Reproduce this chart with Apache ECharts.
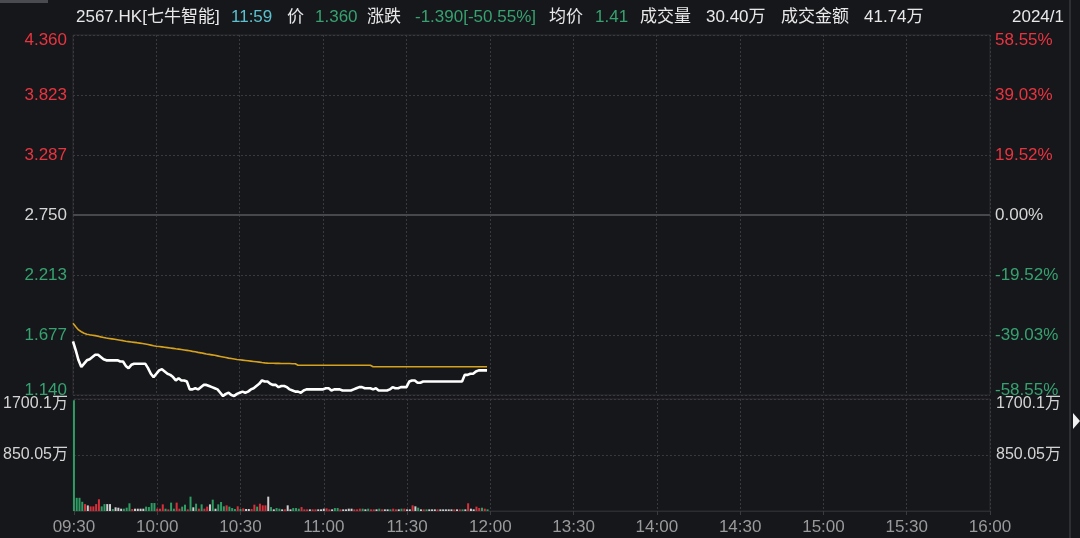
<!DOCTYPE html>
<html><head><meta charset="utf-8">
<script src="https://cdn.jsdelivr.net/npm/echarts@6/dist/echarts.min.js"></script>
<style>html,body{margin:0;padding:0;background:#16171b;}#c{width:1080px;height:538px;}</style>
</head><body><div id="c"></div>
<script>
// ---------- data ----------
const prevClose = 2.75;
const maxPct = 58.55;
const priceTickLabels = ['1.140','1.677','2.213','2.750','3.287','3.823','4.360'];
const pctTickLabels = ['-58.55%','-39.03%','-19.52%','0.00%','19.52%','39.03%','58.55%'];
const volMax = 1700.1;
const volTickLabels = ['', '850.05万', '1700.1万'];
const timeLabels = ['09:30','10:00','10:30','11:00','11:30','12:00','13:30','14:00','14:30','15:00','15:30','16:00'];
const sessionMinutes = 330;

const price = [
1.62,1.54,1.45,1.39,1.42,1.45,1.46,1.48,1.50,1.50,
1.48,1.46,1.45,1.45,1.45,1.45,1.45,1.44,1.44,1.40,
1.38,1.41,1.42,1.42,1.42,1.42,1.42,1.38,1.33,1.30,
1.33,1.36,1.37,1.35,1.33,1.32,1.30,1.27,1.29,1.27,
1.27,1.26,1.19,1.19,1.20,1.19,1.21,1.23,1.23,1.22,
1.21,1.20,1.19,1.16,1.13,1.15,1.16,1.14,1.13,1.15,
1.16,1.17,1.16,1.17,1.19,1.20,1.22,1.24,1.27,1.26,
1.26,1.24,1.23,1.23,1.21,1.22,1.22,1.21,1.19,1.18,
1.17,1.17,1.16,1.18,1.19,1.19,1.19,1.19,1.19,1.19,
1.19,1.20,1.20,1.18,1.19,1.19,1.19,1.18,1.18,1.18,
1.18,1.19,1.20,1.21,1.21,1.20,1.20,1.20,1.19,1.20,
1.18,1.18,1.18,1.18,1.19,1.21,1.20,1.20,1.21,1.21,
1.21,1.26,1.27,1.27,1.25,1.25,1.26,1.26,1.26,1.26,
1.26,1.26,1.26,1.26,1.26,1.26,1.26,1.26,1.26,1.26,
1.26,1.32,1.32,1.33,1.33,1.35,1.36,1.36,1.36,1.36
];

const avgPrice = [
1.781,1.750,1.722,1.706,1.692,1.684,1.679,1.675,1.671,1.666,
1.660,1.655,1.650,1.646,1.642,1.638,1.634,1.630,1.626,1.620,
1.617,1.614,1.611,1.608,1.604,1.600,1.596,1.592,1.586,1.580,
1.576,1.573,1.570,1.567,1.564,1.561,1.557,1.553,1.550,1.547,
1.543,1.539,1.535,1.530,1.526,1.521,1.517,1.512,1.507,1.503,
1.499,1.495,1.490,1.485,1.480,1.475,1.470,1.466,1.462,1.458,
1.455,1.452,1.449,1.446,1.443,1.440,1.437,1.434,1.430,1.427,
1.425,1.424,1.424,1.423,1.423,1.422,1.422,1.421,1.421,1.420,
1.420,1.406,1.406,1.406,1.406,1.406,1.406,1.406,1.406,1.406,
1.406,1.406,1.406,1.406,1.406,1.406,1.406,1.406,1.406,1.406,
1.406,1.406,1.406,1.406,1.406,1.406,1.406,1.406,1.393,1.393,
1.393,1.393,1.393,1.393,1.393,1.393,1.393,1.393,1.393,1.393,
1.393,1.393,1.393,1.393,1.393,1.393,1.393,1.393,1.393,1.393,
1.393,1.393,1.393,1.393,1.393,1.393,1.393,1.393,1.393,1.393,
1.393,1.393,1.393,1.393,1.393,1.393,1.393,1.393,1.393,1.393
];

const volume = [
1680,200,200,140,105,85,70,70,105,178,
70,105,105,105,30,56,50,35,35,50,
117,30,35,35,35,35,66,60,121,121,
35,35,101,35,25,127,35,127,35,66,
96,25,218,56,111,35,101,35,66,101,
172,35,101,137,71,86,66,45,30,71,
30,40,30,30,30,96,66,111,86,86,
218,60,25,45,35,25,25,86,25,45,
45,35,60,25,25,25,25,25,25,25,
35,40,25,25,45,45,25,25,25,35,
35,25,25,35,35,25,35,25,25,25,
35,25,25,25,25,35,25,25,35,35,
25,25,86,71,50,25,25,25,25,25,
25,25,25,25,25,25,25,25,25,25,
25,25,117,35,25,66,45,50,35,25
];

const volDir = (
'ggggrwrrrr' + 'ggwwgwwwgg' + 'grwwwwgggg' + 'rrrgrggrrg' + 'grgwgrgrrw' +
'gwgggrgggr' + 'grwwrrgrrr' + 'wgwggwrwwg' + 'ggrrrwrrww' + 'wrrwggrwww' +
'wrrrgwgrrw' + 'grwwgrrwgr' + 'wwrwgwrgww' + 'wrwwwwwrwr' + 'gwrwwrrgrg'
).split('');

const headerTexts = ['2567.HK[七牛智能]','11:59','价','1.360','涨跌','-1.390[-50.55%]','均价','1.41','成交量','30.40万','成交金额','41.74万','2024/1'];
const headerKinds = ['w','t','w','g','w','g','w','g','w','w','w','w','w'];

// ---------- layout / style ----------
const headerX = [76,231,287,315,367,415,549,595,640,706,781,864,1012];
const C = {
  bg:'#16171b', red:'#e8343f', green:'#36a270', teal:'#5bc0cf', white:'#e8e8e8',
  grey:'#9a9a9a', grid:'#393a3f', border:'#2c2d31', zero:'#47484c',
  avg:'#d6a21e', vr:'#d8303a', vg:'#2e9c63', vw:'#cfcfcf'
};
const FONT = '"Liberation Sans","Noto Sans CJK SC",Arial,sans-serif';
const kindColor = {w:C.white, t:C.teal, g:C.green};
const volColor = {r:C.vr, g:C.vg, w:C.vw};

const toPct = p => (p - prevClose) / prevClose * 100;
const pInt = maxPct / 3;
const tickIdx = v => Math.round((parseFloat(v) + maxPct) / pInt);
const idxColor = k => k > 3 ? C.red : (k < 3 ? C.green : '#d6d6d6');
const edgeLabel = (arr) => v => {
  const k = tickIdx(v);
  const style = (k === 6 ? 'top' : (k === 0 ? 'bot' : 'mid')) + (k > 3 ? 'R' : (k < 3 ? 'G' : 'W'));
  return '{' + style + '|' + arr[k] + '}';
};
const mk = (pad, col) => ({ padding: pad, color: col, fontSize: 17, fontFamily: FONT });
const priceRich = {
  topR: mk([10,0,0,0], C.red), topG: mk([10,0,0,0], C.green), topW: mk([10,0,0,0], '#d6d6d6'),
  botR: mk([0,0,10,0], C.red), botG: mk([0,0,10,0], C.green), botW: mk([0,0,10,0], '#d6d6d6'),
  midR: mk([0,0,0,0], C.red), midG: mk([0,0,0,0], C.green), midW: mk([0,0,0,0], '#d6d6d6')
};
const volRich = { top: { padding:[10,0,0,0], color:'#d4d4d4', fontSize:16, fontFamily: FONT } };
const volFmt = v => { const k = Math.round(parseFloat(v) / (volMax/2)); return k === 2 ? '{top|' + volTickLabels[k] + '}' : volTickLabels[k]; };

const dotted = { color: C.grid, type: [2,2], width: 1 };
const gridL = 73, gridR = 90;

const chart = echarts.init(document.getElementById('c'), null, {renderer:'canvas'});

const graphics = headerTexts.map((t, i) => ({
  type:'text', x: headerX[i], y: 17, silent: true,
  style: { text: t, fill: kindColor[headerKinds[i]], font: '17px ' + FONT, verticalAlign: 'middle' }
}));
graphics.push(
  { type:'rect', shape:{x:0,y:0,width:48,height:3}, style:{fill:'#4a4b50'}, silent:true },
  { type:'rect', shape:{x:1069,y:0,width:2,height:538}, style:{fill:'#2e2f33'}, silent:true },
  { type:'polygon', shape:{points:[[1073,413],[1080,421],[1073,429]]}, style:{fill:'#f0f0f0'}, silent:true }
);

const xCommon = {
  type:'value', min:0, max:sessionMinutes, interval:30,
  splitLine:{ show:true, lineStyle: dotted },
  axisLine:{ show:false }, axisTick:{ show:false }
};

chart.setOption({
  backgroundColor: C.bg,
  animation: false,
  textStyle: { fontFamily: FONT },
  graphic: graphics,
  grid: [
    { left: gridL, right: gridR, top: 35, height: 360, show: true, borderColor: C.border, borderWidth: 1, backgroundColor: 'transparent' },
    { left: gridL, right: gridR, top: 399, height: 112, show: true, borderColor: C.border, borderWidth: 1, backgroundColor: 'transparent' }
  ],
  xAxis: [
    Object.assign({}, xCommon, { gridIndex:0, axisLabel:{ show:false } }),
    Object.assign({}, xCommon, { gridIndex:1,
      axisLine:{ show:true, lineStyle:{ color: C.border } },
      axisTick:{ show:true, length:4, lineStyle:{ color:'#3a3b40' } },
      axisLabel:{ show:true, color: C.grey, fontSize: 17, margin: 8, fontFamily: FONT,
        formatter: v => timeLabels[Math.round(parseFloat(v) / 30)] || '' } })
  ],
  yAxis: [
    { type:'value', gridIndex:0, position:'left', min:-maxPct, max:maxPct, interval:pInt,
      axisLine:{show:false}, axisTick:{show:false},
      splitLine:{ show:true, lineStyle: dotted },
      axisLabel:{ fontSize:17, margin:6, fontFamily: FONT, rich: priceRich, formatter: edgeLabel(priceTickLabels) } },
    { type:'value', gridIndex:0, position:'right', min:-maxPct, max:maxPct, interval:pInt,
      axisLine:{show:false}, axisTick:{show:false}, splitLine:{show:false},
      axisLabel:{ fontSize:17, margin:5, fontFamily: FONT, rich: priceRich, formatter: edgeLabel(pctTickLabels) } },
    { type:'value', gridIndex:1, position:'left', min:0, max:volMax, interval:volMax/2,
      axisLine:{show:false}, axisTick:{show:false},
      splitLine:{ show:true, lineStyle: dotted },
      axisLabel:{ fontSize:16, margin:6, color:'#d4d4d4', fontFamily: FONT, rich: volRich, formatter: volFmt } },
    { type:'value', gridIndex:1, position:'right', min:0, max:volMax, interval:volMax/2,
      axisLine:{show:false}, axisTick:{show:false}, splitLine:{show:false},
      axisLabel:{ fontSize:16, margin:6, color:'#d4d4d4', fontFamily: FONT, rich: volRich, formatter: volFmt } }
  ],
  series: [
    { type:'line', name:'均价', xAxisIndex:0, yAxisIndex:0, showSymbol:false, silent:true, clip:false,
      data: avgPrice.map((p, i) => [i, toPct(p)]),
      lineStyle:{ color: C.avg, width: 1.6 },
      markLine:{ silent:true, symbol:['none','none'], label:{show:false},
        lineStyle:{ color: C.zero, type:'solid', width:2 }, data:[{ yAxis: 0 }] } },
    { type:'line', name:'价', xAxisIndex:0, yAxisIndex:0, showSymbol:false, silent:true, clip:false,
      data: price.map((p, i) => [i, toPct(p)]),
      lineStyle:{ color:'#ffffff', width: 2.6 } },
    { type:'bar', name:'成交量', xAxisIndex:1, yAxisIndex:2, barWidth: 2, silent:true,
      data: volume.map((v, i) => ({ value:[i, v], itemStyle:{ color: volColor[volDir[i]] } })) }
  ]
});
</script>
</body></html>
